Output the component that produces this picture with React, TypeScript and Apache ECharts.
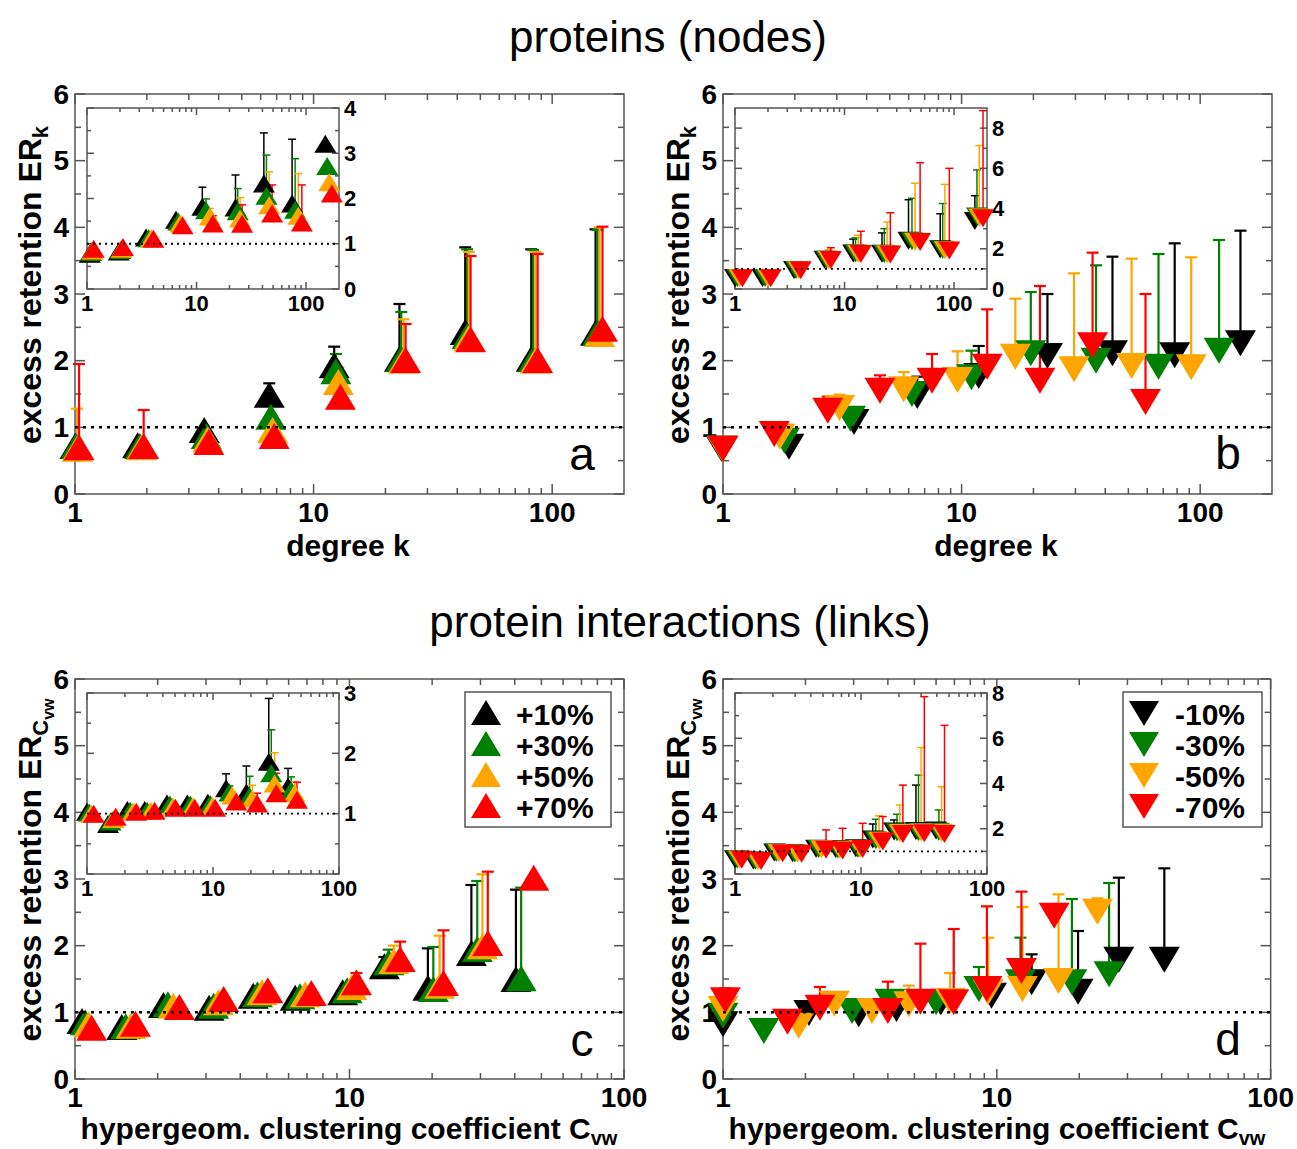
import React, { useEffect, useRef } from 'react';
import * as echarts from 'echarts';

const FONT = 'Liberation Sans';
const SERIES_COLORS = ['#000000', '#008000', '#ffa500', '#ff0000'];
const UP_NAMES = ['+10%', '+30%', '+50%', '+70%'];
const DOWN_NAMES = ['-10%', '-30%', '-50%', '-70%'];

// tick positions
const X_MAJOR = [1, 10, 100];
const X_MINOR = [2, 3, 4, 5, 6, 7, 8, 9, 20, 30, 40, 50, 60, 70, 80, 90];
const MAIN_Y_MAJOR = [0, 1, 2, 3, 4, 5, 6];
const MAIN_Y_MINOR = [0.5, 1.5, 2.5, 3.5, 4.5, 5.5];
const INSET_A_Y_MAJOR = [0, 1, 2, 3, 4];
const INSET_A_Y_MINOR = [0.5, 1.5, 2.5, 3.5];
const INSET_B_Y_MAJOR = [0, 2, 4, 6, 8];
const INSET_B_Y_MINOR = [1, 3, 5, 7];
const INSET_C_Y_MAJOR = [0, 1, 2, 3];
const INSET_C_Y_MINOR = [0.5, 1.5, 2.5];
const INSET_D_Y_MAJOR = [0, 2, 4, 6, 8];
const INSET_D_Y_MINOR = [1, 3, 5, 7];
const MAIN_Y_LABELS = [0, 1, 2, 3, 4, 5, 6];
const INSET_A_Y_LABELS = [0, 1, 2, 3, 4];
const INSET_B_Y_LABELS = [0, 2, 4, 6, 8];
const INSET_C_Y_LABELS = [1, 2, 3];
const INSET_D_Y_LABELS = [2, 4, 6, 8];

// ---- panel a (proteins, +%) : series order black, green, orange, red ----
const aMainK = [
  [1.0, 1.83, 3.48, 6.52, 12.2, 22.9, 43.2, 81.7, 152],
  [1.01, 1.87, 3.55, 6.62, 12.4, 23.3, 44.0, 83.2, 155],
  [1.02, 1.9, 3.6, 6.73, 12.7, 23.8, 44.7, 85.0, 158],
  [1.04, 1.94, 3.64, 6.84, 12.96, 24.3, 45.5, 86.9, 162.5],
];
const aMainV = [
  [0.72, 0.73, 0.96, 1.49, 1.93, 2.03, 2.43, 2.03, 2.42],
  [0.72, 0.72, 0.87, 1.16, 1.84, 2.03, 2.37, 2.02, 2.42],
  [0.68, 0.7, 0.82, 0.96, 1.68, 2.0, 2.34, 2.0, 2.4],
  [0.7, 0.72, 0.78, 0.87, 1.46, 2.01, 2.32, 2.01, 2.48],
];
const aMainTop = [
  [0.72, 0.73, 0.96, 1.66, 2.21, 2.85, 3.7, 3.67, 3.97],
  [0.72, 0.72, 0.87, 1.34, 2.1, 2.73, 3.67, 3.66, 3.96],
  [1.28, 0.7, 0.82, 1.12, 1.9, 2.62, 3.63, 3.63, 4.0],
  [1.95, 1.26, 0.78, 0.87, 1.69, 2.55, 3.57, 3.6, 4.01],
];
const aInsetK = [
  [1.06, 1.95, 3.46, 6.5, 11.3, 22.7, 41.2, 74.6, 150],
  [1.09, 2.02, 3.65, 6.8, 12.2, 23.8, 43.5, 79.5, 156],
  [1.12, 2.07, 3.85, 7.1, 13.2, 25.0, 46.0, 85.0, 163],
  [1.15, 2.13, 4.04, 7.46, 14.1, 26.1, 49.0, 91.6, 172],
];
const aInsetV = [
  [0.78, 0.83, 1.14, 1.53, 1.82, 1.8, 2.33, 1.89, 3.21],
  [0.82, 0.86, 1.12, 1.49, 1.74, 1.72, 2.06, 1.75, 2.72],
  [0.85, 0.89, 1.12, 1.45, 1.6, 1.56, 1.85, 1.62, 2.36],
  [0.89, 0.93, 1.11, 1.41, 1.45, 1.44, 1.67, 1.47, 2.11],
];
const aInsetTop = [
  [0.78, 0.83, 1.14, 1.53, 2.25, 2.52, 3.45, 3.31, 3.21],
  [0.82, 0.86, 1.12, 1.49, 1.99, 2.22, 2.96, 2.88, 2.72],
  [0.85, 0.89, 1.12, 1.45, 1.78, 2.02, 2.59, 2.55, 2.36],
  [0.89, 0.93, 1.11, 1.41, 1.62, 1.86, 2.3, 2.3, 2.11],
];

// ---- panel b (proteins, -%) ----
const bMainK = [
  [0.985, 1.89, 3.54, 6.52, 11.8, 22.9, 42.9, 78.2, 147.5],
  [0.99, 1.81, 3.42, 6.19, 11.0, 19.5, 36.6, 66.9, 120],
  [0.995, 1.73, 3.08, 5.72, 9.62, 16.8, 29.6, 51.6, 91.7],
  [1.0, 1.64, 2.75, 4.55, 7.52, 12.8, 21.3, 35.4, 59.0],
];
const bMainV = [
  [0.68, 0.71, 1.08, 1.47, 1.77, 2.07, 2.11, 2.08, 2.26],
  [0.68, 0.8, 1.13, 1.5, 1.75, 2.11, 2.0, 1.91, 2.15],
  [0.68, 0.86, 1.29, 1.57, 1.71, 2.06, 1.87, 1.92, 1.9],
  [0.68, 0.9, 1.25, 1.55, 1.7, 1.91, 1.7, 2.23, 1.38],
];
const bMainTop = [
  [0.68, 0.71, 1.08, 1.76, 2.22, 3.0, 3.56, 3.76, 3.95],
  [0.68, 0.8, 1.13, 1.5, 2.15, 3.03, 3.43, 3.6, 3.81],
  [0.68, 0.86, 1.49, 1.83, 2.14, 2.93, 3.31, 3.53, 3.55],
  [0.68, 0.9, 1.46, 1.78, 2.1, 2.77, 3.12, 3.62, 3.0],
];
const bInsetK = [
  [1.0, 1.78, 3.46, 6.58, 12.0, 22.0, 38.4, 74.8, 155],
  [1.05, 1.88, 3.6, 6.85, 12.6, 23.1, 41.3, 78.8, 162],
  [1.1, 2.0, 3.8, 7.15, 13.3, 24.5, 44.1, 82.5, 170],
  [1.17, 2.12, 3.98, 7.5, 14.1, 26.2, 49.0, 90.6, 184],
];
const bInsetV = [
  [0.55, 0.55, 0.95, 1.45, 1.77, 1.75, 2.4, 1.98, 3.38],
  [0.55, 0.55, 0.94, 1.45, 1.76, 1.74, 2.37, 1.95, 3.6],
  [0.55, 0.55, 0.93, 1.44, 1.75, 1.73, 2.35, 1.93, 3.55],
  [0.54, 0.54, 0.93, 1.44, 1.74, 1.72, 2.34, 1.92, 3.52],
];
const bInsetTop = [
  [0.55, 0.55, 0.95, 1.45, 2.48, 2.79, 4.44, 3.74, 4.64],
  [0.55, 0.55, 0.94, 1.45, 2.54, 3.0, 4.51, 4.25, 5.92],
  [0.55, 0.55, 0.93, 1.95, 2.67, 3.33, 5.26, 5.2, 7.13],
  [0.54, 0.54, 0.93, 2.05, 2.87, 3.79, 6.28, 6.0, 8.87],
];

// ---- panel c (interactions, +%) ----
const cMainK = [
  [1.06, 1.48, 2.1, 3.08, 4.46, 6.34, 9.44, 13.4, 19.3, 27.8, 40.4],
  [1.09, 1.53, 2.18, 3.2, 4.62, 6.6, 9.8, 13.9, 20.2, 29.2, 42.2],
  [1.12, 1.6, 2.28, 3.33, 4.8, 6.9, 10.2, 14.5, 21.3, 30.5],
  [1.15, 1.66, 2.4, 3.48, 5.04, 7.26, 10.6, 15.3, 22.0, 31.9, 46.9],
];
const cMainV = [
  [0.87, 0.78, 1.11, 1.07, 1.25, 1.22, 1.3, 1.69, 1.37, 1.89, 1.5],
  [0.85, 0.79, 1.12, 1.1, 1.27, 1.24, 1.33, 1.75, 1.35, 1.95, 1.51],
  [0.82, 0.8, 1.1, 1.15, 1.3, 1.27, 1.38, 1.77, 1.4, 1.99],
  [0.77, 0.83, 1.08, 1.2, 1.33, 1.29, 1.45, 1.8, 1.44, 2.04, 3.02],
];
const cMainTop = [
  [0.87, 0.78, 1.11, 1.07, 1.25, 1.22, 1.3, 1.83, 1.96, 2.91, 2.84],
  [0.85, 0.79, 1.12, 1.1, 1.27, 1.24, 1.33, 1.94, 1.98, 2.97, 2.87],
  [0.82, 0.8, 1.1, 1.15, 1.3, 1.27, 1.38, 2.0, 2.15, 3.07],
  [0.77, 0.83, 1.08, 1.2, 1.33, 1.29, 1.59, 2.06, 2.23, 3.11, 3.02],
];
const cInsetK = [
  [1.0, 1.47, 2.09, 2.87, 4.31, 6.25, 9.1, 12.7, 18.4, 27.7, 39.4],
  [1.04, 1.54, 2.2, 3.0, 4.55, 6.6, 9.5, 13.5, 19.5, 29.0, 41.7],
  [1.08, 1.62, 2.32, 3.2, 4.8, 6.9, 9.9, 14.2, 20.5, 30.8, 44.4],
  [1.13, 1.69, 2.46, 3.44, 5.03, 7.16, 10.4, 15.3, 22.4, 31.8, 46.4],
];
const cInsetV = [
  [1.03, 0.83, 1.06, 1.06, 1.17, 1.17, 1.18, 1.42, 1.35, 1.86, 1.45],
  [1.02, 0.87, 1.05, 1.05, 1.15, 1.15, 1.16, 1.35, 1.29, 1.67, 1.39],
  [1.0, 0.91, 1.04, 1.05, 1.12, 1.12, 1.13, 1.3, 1.25, 1.5, 1.34],
  [1.0, 0.95, 1.03, 1.05, 1.1, 1.1, 1.1, 1.2, 1.17, 1.34, 1.23],
];
const cInsetTop = [
  [1.03, 0.83, 1.06, 1.06, 1.17, 1.17, 1.18, 1.66, 1.79, 2.91, 1.75],
  [1.02, 0.87, 1.05, 1.05, 1.15, 1.15, 1.16, 1.46, 1.62, 2.39, 1.61],
  [1.0, 0.91, 1.04, 1.05, 1.12, 1.12, 1.13, 1.36, 1.47, 2.01, 1.53],
  [1.0, 0.95, 1.03, 1.05, 1.1, 1.1, 1.1, 1.2, 1.34, 1.67, 1.52],
];

// ---- panel d (interactions, -%) ----
const dMainK = [
  [1.0, 2.06, 3.13, 4.3, 6.25, 9.56, 13.4, 19.8, 27.9, 40.9],
  [1.0, 1.41, 2.96, 4.07, 6.0, 8.6, 12.2, 18.8, 25.7],
  [1.0, 1.89, 2.55, 3.5, 4.77, 6.75, 9.3, 12.4, 16.8, 23.3],
  [1.02, 1.72, 2.26, 4.0, 5.26, 6.96, 9.2, 12.3, 16.2],
];
const dMainV = [
  [0.82, 0.99, 0.97, 1.05, 1.15, 1.25, 1.45, 1.31, 1.79, 1.79],
  [0.95, 0.72, 1.02, 1.16, 1.15, 1.35, 1.45, 1.45, 1.57],
  [1.05, 0.8, 1.13, 1.02, 1.12, 1.17, 1.3, 1.35, 1.47, 2.51],
  [1.18, 0.86, 1.07, 1.02, 1.16, 1.15, 1.35, 1.62, 2.45],
];
const dMainTop = [
  [0.82, 0.99, 0.97, 1.05, 1.15, 1.25, 1.87, 2.22, 3.02, 3.16],
  [0.95, 0.72, 1.02, 1.27, 1.15, 1.68, 2.12, 2.7, 2.94],
  [1.05, 0.8, 1.13, 1.02, 1.4, 1.59, 2.12, 2.58, 2.77, 2.71],
  [1.36, 0.86, 1.38, 1.46, 2.03, 2.25, 2.59, 2.81, 2.45],
];
const dInsetK = [
  [1.0, 1.4, 2.05, 2.87, 4.4, 6.3, 9.1, 12.4, 18.3, 27.3, 39.4],
  [1.04, 1.45, 2.13, 2.98, 4.6, 6.55, 9.45, 13.1, 19.3, 28.6, 41.5],
  [1.08, 1.52, 2.22, 3.12, 4.85, 6.8, 9.85, 13.9, 20.3, 30.0, 43.6],
  [1.13, 1.61, 2.39, 3.38, 5.28, 7.15, 10.3, 14.9, 21.5, 31.8, 46.0],
];
const dInsetV = [
  [0.65, 0.6, 0.95, 0.92, 1.12, 1.1, 1.14, 1.52, 1.88, 1.9, 1.92],
  [0.64, 0.59, 0.94, 0.91, 1.1, 1.08, 1.12, 1.49, 1.84, 1.86, 1.87],
  [0.64, 0.58, 0.93, 0.9, 1.09, 1.07, 1.11, 1.47, 1.81, 1.83, 1.82],
  [0.63, 0.57, 0.92, 0.89, 1.07, 1.04, 1.1, 1.44, 1.77, 1.8, 1.77],
];
const dInsetTop = [
  [0.65, 0.6, 0.95, 0.92, 1.12, 1.1, 1.14, 2.21, 2.39, 3.93, 2.1],
  [0.64, 0.59, 0.94, 0.91, 1.1, 1.08, 1.12, 2.42, 2.64, 4.37, 2.83],
  [0.64, 0.58, 0.93, 0.9, 1.09, 1.07, 1.25, 2.57, 3.05, 5.59, 3.86],
  [0.63, 0.57, 0.92, 0.89, 1.95, 2.02, 2.24, 2.54, 3.93, 7.84, 6.57],
];

const DOWN_SYMBOL = 'path://M0,0L20,0L10,17Z';

type Plot = {
  left: number; top: number; width: number; height: number;
  xMax: number; yMax: number; yInterval: number; inset: boolean; down: boolean;
  k: number[][]; v: number[][]; t: number[][];
  yMajor: number[]; yMinor: number[]; yLabels: number[];
};

const MAIN_W = 549, MAIN_H = 400, INS_W = 252, INS_H = 181;
const PLOTS: Plot[] = [
  { left: 75, top: 94, width: MAIN_W, height: MAIN_H, xMax: 200, yMax: 6, yInterval: 1, inset: false, down: false, k: aMainK, v: aMainV, t: aMainTop, yMajor: MAIN_Y_MAJOR, yMinor: MAIN_Y_MINOR, yLabels: MAIN_Y_LABELS },
  { left: 87, top: 108, width: INS_W, height: INS_H, xMax: 200, yMax: 4, yInterval: 1, inset: true, down: false, k: aInsetK, v: aInsetV, t: aInsetTop, yMajor: INSET_A_Y_MAJOR, yMinor: INSET_A_Y_MINOR, yLabels: INSET_A_Y_LABELS },
  { left: 723, top: 94, width: MAIN_W, height: MAIN_H, xMax: 200, yMax: 6, yInterval: 1, inset: false, down: true, k: bMainK, v: bMainV, t: bMainTop, yMajor: MAIN_Y_MAJOR, yMinor: MAIN_Y_MINOR, yLabels: MAIN_Y_LABELS },
  { left: 735, top: 108, width: INS_W, height: INS_H, xMax: 200, yMax: 9, yInterval: 2, inset: true, down: true, k: bInsetK, v: bInsetV, t: bInsetTop, yMajor: INSET_B_Y_MAJOR, yMinor: INSET_B_Y_MINOR, yLabels: INSET_B_Y_LABELS },
  { left: 75, top: 679, width: MAIN_W, height: MAIN_H, xMax: 100, yMax: 6, yInterval: 1, inset: false, down: false, k: cMainK, v: cMainV, t: cMainTop, yMajor: MAIN_Y_MAJOR, yMinor: MAIN_Y_MINOR, yLabels: MAIN_Y_LABELS },
  { left: 87, top: 693, width: INS_W, height: INS_H, xMax: 100, yMax: 3, yInterval: 1, inset: true, down: false, k: cInsetK, v: cInsetV, t: cInsetTop, yMajor: INSET_C_Y_MAJOR, yMinor: INSET_C_Y_MINOR, yLabels: INSET_C_Y_LABELS },
  { left: 723, top: 679, width: 548, height: MAIN_H, xMax: 100, yMax: 6, yInterval: 1, inset: false, down: true, k: dMainK, v: dMainV, t: dMainTop, yMajor: MAIN_Y_MAJOR, yMinor: MAIN_Y_MINOR, yLabels: MAIN_Y_LABELS },
  { left: 735, top: 693, width: INS_W, height: INS_H, xMax: 100, yMax: 8, yInterval: 2, inset: true, down: true, k: dInsetK, v: dInsetV, t: dInsetTop, yMajor: INSET_D_Y_MAJOR, yMinor: INSET_D_Y_MINOR, yLabels: INSET_D_Y_LABELS },
];

const FRAME = '#555555';

function decadeLabel(val: number) {
  const l = Math.log10(val);
  return Math.abs(l - Math.round(l)) < 1e-6 ? String(Math.round(val)) : '';
}

function buildOption() {
  const grid: any[] = [];
  const xAxis: any[] = [];
  const yAxis: any[] = [];
  const series: any[] = [];

  PLOTS.forEach((p, i) => {
    const ins = p.inset;
    grid.push({
      left: p.left, top: p.top, width: p.width, height: p.height,
      show: true, borderColor: FRAME, borderWidth: 1.5,
      backgroundColor: ins ? '#ffffff' : 'transparent',
    });
    xAxis.push({
      type: 'log', logBase: 10, gridIndex: i, min: 1, max: p.xMax,
      axisLine: { show: false, onZero: false }, axisTick: { show: false },
      splitLine: { show: false }, minorTick: { show: false }, minorSplitLine: { show: false },
      axisLabel: {
        show: true, interval: 0, margin: ins ? 3 : 4, fontSize: ins ? 22 : 28,
        fontWeight: 'bold', color: '#000', fontFamily: FONT, formatter: decadeLabel,
      },
    });
    const yFmt = (val: number) => (p.yLabels.indexOf(val) >= 0 ? String(val) : '');
    const yBase = {
      type: 'value', gridIndex: i, min: 0, max: p.yMax, interval: p.yInterval,
      axisLine: { show: false, onZero: false }, axisTick: { show: false }, splitLine: { show: false },
    };
    yAxis.push({
      ...yBase, position: 'left',
      axisLabel: { show: !ins, margin: 6, fontSize: 28, fontWeight: 'bold', color: '#000', fontFamily: FONT, formatter: yFmt },
    });
    yAxis.push({
      ...yBase, position: 'right',
      axisLabel: { show: ins, margin: 5, fontSize: 22, fontWeight: 'bold', color: '#000', fontFamily: FONT, formatter: yFmt },
    });

    // ticks (all four sides, inward)
    const tickData: number[][] = [];
    X_MAJOR.forEach((x) => { if (x <= p.xMax) tickData.push([x, 0, 0]); });
    X_MINOR.forEach((x) => { if (x < p.xMax) tickData.push([x, 0, 1]); });
    p.yMajor.forEach((y) => tickData.push([1, y, 2]));
    p.yMinor.forEach((y) => tickData.push([1, y, 3]));
    const majLen = ins ? 7 : 10;
    const minLen = ins ? 4 : 6;
    series.push({
      type: 'custom', xAxisIndex: i, yAxisIndex: 2 * i, silent: true, clip: false,
      data: tickData,
      renderItem: (params: any, api: any) => {
        const kind = api.value(2);
        const len = kind % 2 === 0 ? majLen : minLen;
        const st = { stroke: FRAME, lineWidth: 1.5 };
        if (kind < 2) {
          const xv = api.value(0);
          const b = api.coord([xv, 0]);
          const t = api.coord([xv, p.yMax]);
          return {
            type: 'group', children: [
              { type: 'line', shape: { x1: b[0], y1: b[1], x2: b[0], y2: b[1] - len }, style: st },
              { type: 'line', shape: { x1: t[0], y1: t[1], x2: t[0], y2: t[1] + len }, style: st },
            ],
          };
        }
        const yv = api.value(1);
        const l = api.coord([1, yv]);
        const r = api.coord([p.xMax, yv]);
        return {
          type: 'group', children: [
            { type: 'line', shape: { x1: l[0], y1: l[1], x2: l[0] + len, y2: l[1] }, style: st },
            { type: 'line', shape: { x1: r[0], y1: r[1], x2: r[0] - len, y2: r[1] }, style: st },
          ],
        };
      },
    });

    // dotted reference line at 1
    series.push({
      type: 'line', xAxisIndex: i, yAxisIndex: 2 * i, silent: true, symbol: 'none',
      data: [[1, 1], [p.xMax, 1]],
      lineStyle: { color: '#000', width: ins ? 1.8 : 2.5, type: ins ? [2, 4] : [3, 5] },
    });

    const names = p.down ? DOWN_NAMES : UP_NAMES;
    const lw = ins ? 1.5 : 2.2;
    const cw = ins ? 4 : 6;
    for (let c = 0; c < 4; c++) {
      const color = SERIES_COLORS[c];
      const ks = p.k[c], vs = p.v[c], ts = p.t[c];
      series.push({
        type: 'custom', xAxisIndex: i, yAxisIndex: 2 * i, silent: true, clip: false,
        data: ks.map((x, j) => [x, vs[j], ts[j]]),
        encode: { x: 0, y: 1 },
        renderItem: (params: any, api: any) => {
          const x = api.value(0), y0 = api.value(1), y1 = api.value(2);
          if (!(y1 > y0 + 1e-9)) return null;
          const a = api.coord([x, y0]);
          const b = api.coord([x, y1]);
          return {
            type: 'group', children: [
              { type: 'line', shape: { x1: a[0], y1: a[1], x2: b[0], y2: b[1] }, style: { stroke: color, lineWidth: lw } },
              { type: 'line', shape: { x1: b[0] - cw, y1: b[1], x2: b[0] + cw, y2: b[1] }, style: { stroke: color, lineWidth: lw } },
            ],
          };
        },
      });
      series.push({
        type: 'scatter', name: names[c], xAxisIndex: i, yAxisIndex: 2 * i, silent: true, clip: false,
        symbol: p.down ? DOWN_SYMBOL : 'triangle',
        symbolSize: ins ? [22, 18] : [31, 26],
        itemStyle: { color, opacity: 1 },
        data: ks.map((x, j) => [x, vs[j]]),
      });
    }
  });

  const graphic: any[] = [];
  const txt = (x: number, y: number, text: string, size: number, weight: string, extra: any = {}) => ({
    type: 'text', x, y, z: 100,
    style: { text, fontSize: size, fontWeight: weight, fontFamily: FONT, fill: '#000', align: 'center', verticalAlign: 'middle', ...extra },
  });
  graphic.push(txt(668, 36, 'proteins (nodes)', 44, 'normal'));
  graphic.push(txt(680, 621, 'protein interactions (links)', 44, 'normal'));
  graphic.push(txt(582, 454, 'a', 46, 'normal'));
  graphic.push(txt(1228, 453, 'b', 46, 'normal'));
  graphic.push(txt(582, 1040, 'c', 46, 'normal'));
  graphic.push(txt(1228, 1039, 'd', 46, 'normal'));
  graphic.push(txt(348, 545, 'degree k', 30, 'bold'));
  graphic.push(txt(996, 545, 'degree k', 30, 'bold'));

  const xTitleRich = {
    m: { fontSize: 30, fontWeight: 'bold', fontFamily: FONT, fill: '#000' },
    s: { fontSize: 20, fontWeight: 'bold', fontFamily: FONT, fill: '#000', padding: [20, 0, 0, 0] },
  };
  graphic.push({ type: 'text', x: 349, y: 1128, z: 100, style: { text: '{m|hypergeom. clustering coefficient C}{s|vw}', rich: xTitleRich, align: 'center', verticalAlign: 'middle' } });
  graphic.push({ type: 'text', x: 997, y: 1128, z: 100, style: { text: '{m|hypergeom. clustering coefficient C}{s|vw}', rich: xTitleRich, align: 'center', verticalAlign: 'middle' } });

  const yTitleRich = {
    m: { fontSize: 32, fontWeight: 'bold', fontFamily: FONT, fill: '#000' },
    s: { fontSize: 22, fontWeight: 'bold', fontFamily: FONT, fill: '#000', padding: [21, 0, 0, 0] },
    ss: { fontSize: 16, fontWeight: 'bold', fontFamily: FONT, fill: '#000', padding: [36, 0, 0, 0] },
  };
  graphic.push({ type: 'text', x: 30, y: 285, rotation: Math.PI / 2, z: 100, style: { text: '{m|excess retention ER}{s|k}', rich: yTitleRich, align: 'center', verticalAlign: 'middle' } });
  graphic.push({ type: 'text', x: 678, y: 285, rotation: Math.PI / 2, z: 100, style: { text: '{m|excess retention ER}{s|k}', rich: yTitleRich, align: 'center', verticalAlign: 'middle' } });
  graphic.push({ type: 'text', x: 30, y: 870, rotation: Math.PI / 2, z: 100, style: { text: '{m|excess retention ER}{s|C}{ss|vw}', rich: yTitleRich, align: 'center', verticalAlign: 'middle' } });
  graphic.push({ type: 'text', x: 678, y: 870, rotation: Math.PI / 2, z: 100, style: { text: '{m|excess retention ER}{s|C}{ss|vw}', rich: yTitleRich, align: 'center', verticalAlign: 'middle' } });

  // legends
  const legend = (bx: number, bw: number, triX: number, textX: number, names: string[], down: boolean) => {
    graphic.push({ type: 'rect', z: 100, shape: { x: bx, y: 692, width: bw, height: 135 }, style: { fill: '#fff', stroke: FRAME, lineWidth: 1.5 } });
    names.forEach((n, i) => {
      const cy = 713 + 31 * i;
      const pts = down ? [[-15, -12], [15, -12], [0, 13]] : [[0, -13], [15, 12], [-15, 12]];
      graphic.push({ type: 'polygon', z: 101, x: triX, y: cy, shape: { points: pts }, style: { fill: SERIES_COLORS[i] } });
      graphic.push({ type: 'text', z: 101, x: textX, y: cy + 1, style: { text: n, fontSize: 30, lineHeight: 28, fontWeight: 'bold', fontFamily: FONT, fill: '#000', align: 'left', verticalAlign: 'middle' } });
    });
  };
  legend(465, 146, 486, 516, UP_NAMES, false);
  legend(1123, 139, 1144, 1175, DOWN_NAMES, true);

  return {
    animation: false,
    backgroundColor: '#ffffff',
    textStyle: { fontFamily: FONT },
    grid, xAxis, yAxis, series, graphic,
  };
}

export default function App() {
  const ref = useRef<HTMLDivElement>(null);
  useEffect(() => {
    if (!ref.current) return;
    const chart = echarts.init(ref.current, undefined, { renderer: 'svg' });
    chart.setOption(buildOption() as any);
    return () => chart.dispose();
  }, []);
  return <div ref={ref} style={{ position: 'absolute', left: 0, top: 0, width: 1297, height: 1149 }} />;
}
